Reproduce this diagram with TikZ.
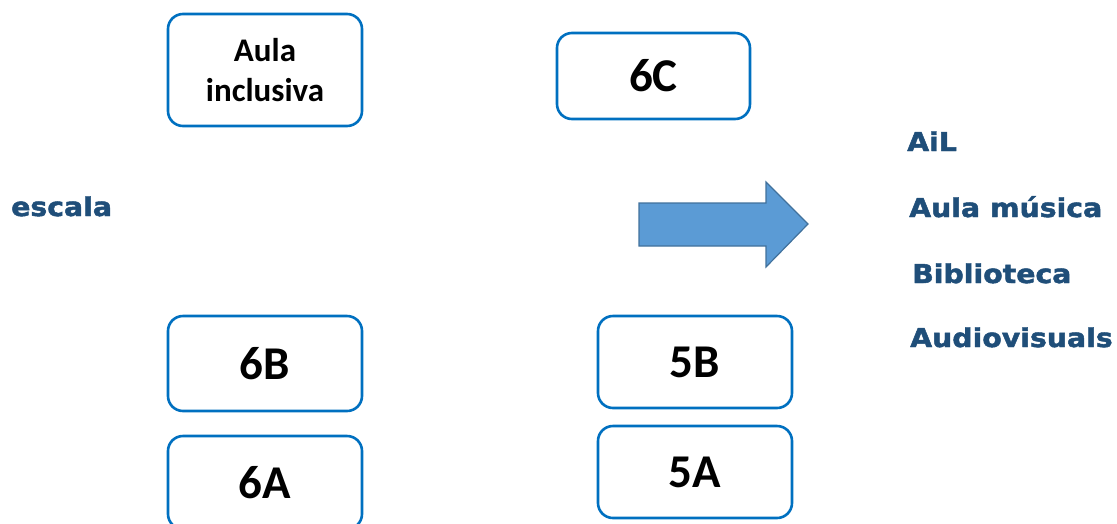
\documentclass[tikz,border=0pt]{standalone}
\usepackage{fontspec}
\setmainfont{Carlito}
\newfontfamily\heavy[FakeStretch=1.09,FakeBold=1.8]{DejaVu Sans}
\definecolor{boxblue}{HTML}{0070C0}
\definecolor{txtblue}{HTML}{1F4E79}
\definecolor{arrfill}{HTML}{5B9BD5}
\definecolor{arrline}{HTML}{41719C}
\begin{document}
\begin{tikzpicture}[x=1pt,y=-1pt,
  room/.style={draw=boxblue, line width=2.6pt, rounded corners=15pt, fill=white,
    inner sep=0pt, font=\fontsize{47}{56}\selectfont\bfseries, align=center},
  place/.style={anchor=base west, inner sep=0pt, text=txtblue,
    font=\heavy\bfseries\fontsize{26}{30}\selectfont}]
\useasboundingbox (0,0) rectangle (1117,523);
\clip (0,0) rectangle (1117,523);
\node[room, minimum width=194pt, minimum height=112pt,
  font=\fontsize{33}{40}\selectfont\bfseries] (ai) at (265,70) {Aula\\inclusiva};
\node[room, minimum width=193pt, minimum height=86pt] (c6) at (653.5,76) {6C};
\node[room, minimum width=194pt, minimum height=95pt] (b6) at (265,363.5) {6B};
\node[room, minimum width=194pt, minimum height=93pt] (a6) at (265,482.5) {6A};
\node[room, minimum width=194pt, minimum height=92pt] (b5) at (695,362) {5B};
\node[room, minimum width=194pt, minimum height=92pt] (a5) at (695,472) {5A};
\fill[arrfill, draw=arrline, line width=1.2pt]
  (639,203) -- (766,203) -- (766,182) -- (808,224) -- (766,267) -- (766,246) -- (639,246) -- cycle;
\node[place] (ail) at (907,151) {AiL};
\node[place] (mus) at (909,217) {Aula música};
\node[place] (bib) at (912,283) {Biblioteca};
\node[place] (aud) at (910,347) {Audiovisuals};
\node[place] (esc) at (11,216) {escala};
\end{tikzpicture}
\end{document}
